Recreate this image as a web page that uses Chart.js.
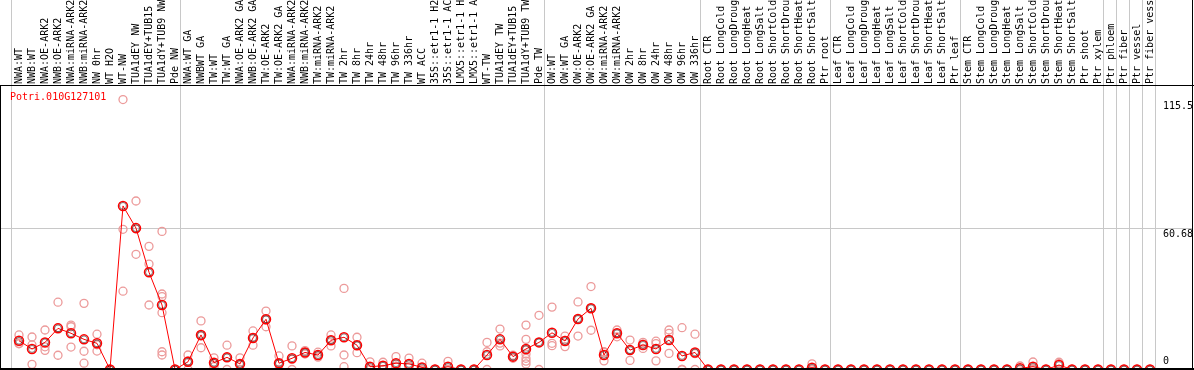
<!DOCTYPE html>
<html><head><meta charset="utf-8">
<script src="https://cdn.jsdelivr.net/npm/chart.js@4/dist/chart.umd.min.js"></script>
<style>html,body{margin:0;padding:0;background:#fff;overflow:hidden}canvas{display:block}</style>
</head><body>
<canvas id="c" width="1194" height="370"></canvas>
<script>
const geneName = "Potri.010G127101";
const categories = [
  "NWA:WT","NWB:WT","NWA:OE-ARK2","NWB:OE-ARK2","NWA:miRNA-ARK2","NWB:miRNA-ARK2","NW 0hr","WT H2O","WT-NW",
  "TUA1dEY NW","TUA1dEY+TUB15","TUA1dY+TUB9 NW","Pde NW",
  "NWA:WT GA","NWBWT GA","TW:WT","TW:WT GA","NWA:OE-ARK2 GA","NWB:OE-ARK2 GA","TW:OE-ARK2","TW:OE-ARK2 GA",
  "NWA:miRNA-ARK2 GA","NWB:miRNA-ARK2 GA","TW:miRNA-ARK2","TW:miRNA-ARK2 GA",
  "TW 2hr","TW 8hr","TW 24hr","TW 48hr","TW 96hr","TW 336hr","WT ACC",
  "35S::etr1-1 H2O","35S::etr1-1 ACC","LMX5::etr1-1 H2O","LMX5::etr1-1 ACC",
  "WT-TW","TUA1dEY TW","TUA1dEY+TUB15 TW","TUA1dY+TUB9 TW","Pde TW",
  "OW:WT","OW:WT GA","OW:OE-ARK2","OW:OE-ARK2 GA","OW:miRNA-ARK2","OW:miRNA-ARK2 GA",
  "OW 2hr","OW 8hr","OW 24hr","OW 48hr","OW 96hr","OW 336hr",
  "Root CTR","Root LongCold","Root LongDrought","Root LongHeat","Root LongSalt","Root ShortCold","Root ShortDrought","Root ShortHeat","Root ShortSalt","Ptr root",
  "Leaf CTR","Leaf LongCold","Leaf LongDrought","Leaf LongHeat","Leaf LongSalt","Leaf ShortCold","Leaf ShortDrought","Leaf ShortHeat","Leaf ShortSalt","Ptr leaf",
  "Stem CTR","Stem LongCold","Stem LongDrought","Stem LongHeat","Stem LongSalt","Stem ShortCold","Stem ShortDrought","Stem ShortHeat","Stem ShortSalt",
  "Ptr shoot","Ptr xylem","Ptr phloem","Ptr fiber","Ptr vessel","Ptr fiber vessel"
];
const means = [
  12.3, 8.8, 11.6, 17.6, 15.5, 12.9, 11.2, 0, 70.0, 60.5, 41.6, 27.6, 0,
  3.3, 14.8, 2.9, 5.2, 2.4, 13.5, 21.5, 2.7, 4.8, 7.3, 6.2, 12.5,
  13.8, 10.4, 1.2, 1.6, 2.7, 2.4, 0.9, 0, 1.2, 0, 0,
  6.2, 12.9, 5.5, 8.8, 11.6,
  15.7, 12.2, 21.6, 26.2, 6.2, 15.5, 8.3, 10.5, 8.8, 12.6, 5.8, 7.3,
  0, 0, 0, 0, 0, 0, 0, 0, 0.8, 0,
  0, 0, 0, 0, 0, 0, 0, 0, 0, 0,
  0, 0, 0, 0, 0.5, 1.2, 0, 1.9, 0,
  0, 0, 0, 0, 0, 0
];
const Z = [0, 0, 0];
const replicates = [
  [14.8, 11.2, 11.0], [13.9, 10.5, 2.2], [16.9, 9.7, 8.2], [28.8, 17.9, 6.1], [19.0, 18.3, 9.6],
  [28.3, 7.8, 2.7], [15.1, 10.6, 7.9], Z, [115.5, 60.0, 33.5], [72.1, 60.1, 49.3],
  [52.7, 45.1, 27.6], [59.1, 32.3, 31.2, 24.3, 7.6, 6.2], Z,
  [6.2, 3.7, 0], [20.8, 14.3, 9.3], [5.0, 2.5, 1.2], [10.4, 5.2, 0], [5.0, 2.2, 0],
  [16.5, 13.6, 10.4], [25.0, 21.2, 18.3], [5.8, 2.3, 0], [10.1, 4.3, 0], [8.1, 7.3, 6.6],
  [7.4, 5.9, 5.3], [14.8, 12.6, 10.1], [34.7, 6.2, 1.2], [13.8, 10.2, 7.2], [3.3, 0.3, 0],
  [3.1, 1.7, 0], [5.5, 1.4, 1.2], [4.9, 1.2, 1.1], [2.7, 0, 0], Z, [3.5, 0, 0], Z, Z,
  [11.6, 7.6, 0], [17.3, 11.3, 10.1], [6.1, 5.6, 4.8], [19.0, 12.9, 8.3, 6.6, 4.8, 3.6, 2.4], [23.2, 11.6, 0],
  [26.7, 11.2, 10.2], [14.3, 12.5, 9.8], [28.9, 21.6, 14.3], [35.5, 26.3, 16.8], [7.6, 7.3, 3.7],
  [16.9, 15.6, 14.0], [12.6, 8.4, 3.9], [11.6, 10.9, 9.0], [12.1, 11.1, 3.7], [16.9, 15.5, 6.9],
  [17.9, 0, 0], [15.1, 6.8, 0],
  Z, Z, Z, Z, Z, Z, Z, Z, [2.4, 0, 0], Z,
  Z, Z, Z, Z, Z, Z, Z, Z, Z, Z,
  Z, Z, Z, Z, [1.5, 0, 0], [3.2, 0.4, 0], Z, [3.1, 2.5, 0], Z,
  Z, Z, Z, Z, Z, Z
];
const yTickValues = [0, 60.68, 115.5];
const yTickLabels = ["0", "60.68", "115.5"];
const hGridValues = [60.68];
const groupEnds = [-1, 12, 40, 52, 62, 72, 83, 84, 85, 86, 87];

const repPoints = [];
replicates.forEach((arr, i) => arr.forEach(v => repPoints.push({x: i, y: v})));
const meanPoints = means.map((v, i) => ({x: i, y: v}));

const MONO = '"DejaVu Sans Mono", "Liberation Mono", monospace';

const framePlugin = {
  id: 'frame',
  beforeDraw(chart) {
    const {ctx, chartArea: a, scales: {x, y}} = chart;
    ctx.save();
    ctx.fillStyle = '#fff';
    ctx.fillRect(0, 0, chart.width, chart.height);
    ctx.strokeStyle = '#c8c8c8';
    ctx.lineWidth = 1;
    groupEnds.forEach(i => {
      const px = Math.round(x.getPixelForValue(i) + 5) + 0.5;
      ctx.beginPath(); ctx.moveTo(px, 0); ctx.lineTo(px, chart.height); ctx.stroke();
    });
    hGridValues.forEach(v => {
      const py = Math.round(y.getPixelForValue(v)) + 0.5;
      ctx.beginPath(); ctx.moveTo(a.left, py); ctx.lineTo(a.right, py); ctx.stroke();
    });
    ctx.restore();
  },
  afterDraw(chart) {
    const {ctx, chartArea: a, scales: {y}} = chart;
    ctx.save();
    ctx.fillStyle = '#000';
    ctx.fillRect(0, a.top, chart.width, 1);
    ctx.fillRect(0, a.top, 1, chart.height - a.top);
    ctx.fillRect(1192, 0, 1, chart.height);
    ctx.fillRect(0, 368, chart.width, 2);
    ctx.font = '10px ' + MONO;
    ctx.fillStyle = '#ff0000';
    ctx.textBaseline = 'top';
    ctx.textAlign = 'left';
    ctx.fillText(geneName, 10, 92);
    ctx.fillStyle = '#000';
    yTickValues.forEach((v, k) => {
      const py = y.getPixelForValue(v);
      if (v === 0) { ctx.textBaseline = 'bottom'; ctx.fillText(yTickLabels[k], 1163, py - 3); }
      else { ctx.textBaseline = 'top'; ctx.fillText(yTickLabels[k], 1163, py + 2); }
    });
    ctx.restore();
  }
};

new Chart(document.getElementById('c'), {
  type: 'scatter',
  data: {
    datasets: [
      {data: repPoints, showLine: false, pointStyle: 'circle', pointRadius: 4, pointBorderWidth: 1.3,
       pointBorderColor: '#ec9a9a', pointBackgroundColor: 'rgba(0,0,0,0)', order: 3},
      {data: meanPoints, showLine: true, borderColor: '#ff0000', borderWidth: 1, pointRadius: 4.5,
       pointBorderColor: '#ff0000', pointBorderWidth: 1.5, pointBackgroundColor: 'rgba(0,0,0,0)', order: 2},
      {data: meanPoints, showLine: false, pointRadius: 3.4, pointBorderColor: 'rgba(0,0,0,0.8)', pointBorderWidth: 0.6,
       pointBackgroundColor: 'rgba(0,0,0,0)', order: 1}
    ]
  },
  options: {
    responsive: false, animation: false, devicePixelRatio: 1,
    layout: {autoPadding: false, padding: {left: 1, right: 1, top: 0, bottom: 1}},
    plugins: {legend: {display: false}, tooltip: {enabled: false}},
    scales: {
      x: {
        type: 'linear', position: 'top', min: -18 / 13, max: 1174 / 13,
        grid: {display: false, drawTicks: false}, border: {display: false},
        afterBuildTicks: s => { s.ticks = categories.map((_, i) => ({value: i})); },
        afterFit: s => { s.height = 85; s.paddingLeft = 0; s.paddingRight = 0; },
        ticks: {autoSkip: false, minRotation: 90, maxRotation: 90, padding: 1, labelOffset: 12, color: '#000',
          font: {family: MONO, size: 10}, callback: v => categories[v] ?? ''}
      },
      y: {display: false, min: 0.214, max: 121.74}
    }
  },
  plugins: [framePlugin]
});
</script>
</body></html>
